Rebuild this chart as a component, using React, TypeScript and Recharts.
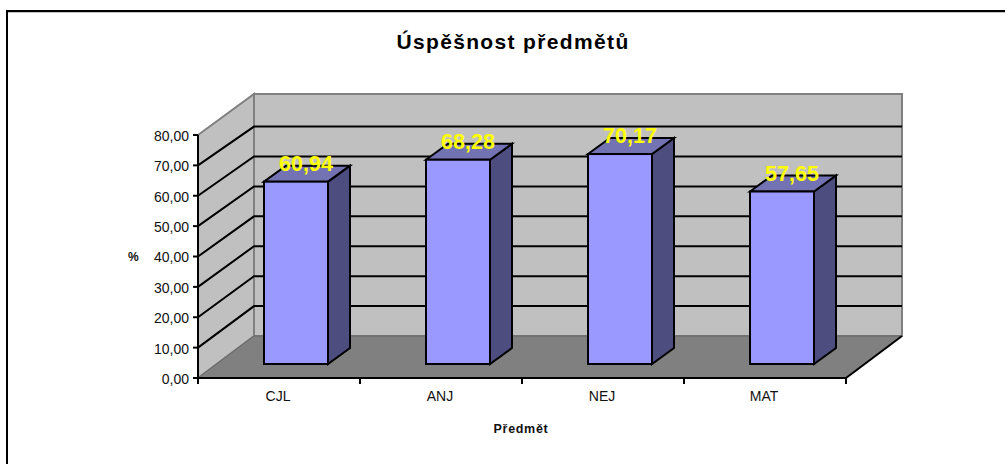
import React from 'react';
import {
  BarChart,
  Bar,
  XAxis,
  YAxis,
  CartesianGrid,
  LabelList,
  ReferenceArea,
} from 'recharts';

const subjects = ['CJL', 'ANJ', 'NEJ', 'MAT'];
const successRates = [60.94, 68.28, 70.17, 57.65];
const valueTicks = [0, 10, 20, 30, 40, 50, 60, 70, 80];

const data = subjects.map((name, i) => ({ name, value: successRates[i] }));

const FONT = '"Liberation Sans", Arial, sans-serif';
const WALL_DX = 56;
const WALL_DY = 42;
const BAR_DX = 17;
const BAR_DY = 14;
const BAR_DEPTH_X = 22;
const BAR_DEPTH_Y = 16;
// things further back come out slightly shorter than the front axis
const FORESHORTEN = 0.985;

const formatValue = (v: number) => v.toFixed(2).replace('.', ',');

// floor and the two walls, sized from the plot area
const Room = ({ x, y, width, height }: any) => {
  const bottom = y + height;
  const right = x + width;
  return (
    <g>
      <polygon
        points={`${x + WALL_DX},${y - WALL_DY + 1} ${right + WALL_DX},${y - WALL_DY + 1} ${right + WALL_DX},${bottom - WALL_DY} ${x + WALL_DX},${bottom - WALL_DY}`}
        fill="#c0c0c0"
        stroke="#808080"
        strokeWidth={2}
      />
      <polygon
        points={`${x},${y} ${x + WALL_DX},${y - WALL_DY + 1} ${x + WALL_DX},${bottom - WALL_DY} ${x},${bottom}`}
        fill="#c0c0c0"
        stroke="#808080"
        strokeWidth={2}
      />
      <polygon
        points={`${x},${bottom} ${right},${bottom} ${right + WALL_DX},${bottom - WALL_DY} ${x + WALL_DX},${bottom - WALL_DY}`}
        fill="#808080"
        stroke="#666666"
        strokeWidth={1}
      />
      <line x1={right} y1={bottom} x2={right + WALL_DX} y2={bottom - WALL_DY} stroke="#000" strokeWidth={2} />
    </g>
  );
};

// each grid line runs up the side wall, then along the back wall
const GridLine = ({ x1, x2, y1, index, y, height }: any) => {
  if (index === 0 || index === valueTicks.length - 1) return <g />;
  const bottom = y + height;
  const backY = bottom - WALL_DY - (bottom - y1) * FORESHORTEN;
  return (
    <polyline
      points={`${x1},${y1} ${x1 + WALL_DX},${backY} ${x2 + WALL_DX},${backY}`}
      fill="none"
      stroke="#000"
      strokeWidth={2}
    />
  );
};

const Bar3D = ({ x, y, width, height }: any) => {
  const h = height * FORESHORTEN;
  const left = x + BAR_DX;
  const right = left + width;
  const bottom = y + height - BAR_DY;
  const top = bottom - h;
  return (
    <g stroke="#000" strokeWidth={2} strokeLinejoin="miter">
      <polygon
        points={`${right},${top} ${right + BAR_DEPTH_X},${top - BAR_DEPTH_Y} ${right + BAR_DEPTH_X},${bottom - BAR_DEPTH_Y} ${right},${bottom}`}
        fill="#4d4d80"
      />
      <polygon
        points={`${left},${top} ${left + BAR_DEPTH_X},${top - BAR_DEPTH_Y} ${right + BAR_DEPTH_X},${top - BAR_DEPTH_Y} ${right},${top}`}
        fill="#7373b3"
      />
      <rect x={left} y={top} width={width} height={h} fill="#9999ff" />
    </g>
  );
};

const BarValue = ({ x, y, width, height, value }: any) => {
  const bottom = y + height - BAR_DY;
  const top = bottom - height * FORESHORTEN;
  return (
    <text
      x={x + BAR_DX + width / 2 + BAR_DEPTH_X / 2 - 1}
      y={top - 11}
      textAnchor="middle"
      fontFamily={FONT}
      fontSize={21.5}
      fontWeight="bold"
      fill="#ffff00"
    >
      {formatValue(value)}
    </text>
  );
};

const CategoryTick = ({ x, y, index, payload }: any) => {
  const step = 162;
  return (
    <g>
      <line x1={x - step / 2} y1={y - 8} x2={x - step / 2} y2={y - 2} stroke="#000" strokeWidth={2} />
      {index === subjects.length - 1 && (
        <line x1={x + step / 2} y1={y - 8} x2={x + step / 2} y2={y - 2} stroke="#000" strokeWidth={2} />
      )}
      <text x={x - 1} y={y + 15} textAnchor="middle" fontFamily={FONT} fontSize={14} fill="#111">
        {payload.value}
      </text>
    </g>
  );
};

const App = () => (
  <div style={{ position: 'absolute', left: 0, top: 0, width: 1005, height: 464, background: '#fff', overflow: 'hidden' }}>
    <div style={{ position: 'absolute', left: 6, top: 10, width: 999, height: 3, borderTop: '2px solid #000', borderBottom: '1px solid #c0c0c0', boxSizing: 'border-box' }} />
    <div style={{ position: 'absolute', left: 6, top: 10, width: 2, height: 454, background: '#000' }} />
    <BarChart
      width={1005}
      height={464}
      data={data}
      margin={{ top: 135, right: 159, bottom: 56, left: 138 }}
      barSize={64}
      style={{ position: 'absolute', left: 0, top: 0 }}
    >
      <ReferenceArea y1={0} y2={80} shape={<Room />} ifOverflow="visible" zIndex={-200} />
      <CartesianGrid vertical={false} horizontal={<GridLine />} syncWithTicks />
      <XAxis
        dataKey="name"
        axisLine={{ stroke: '#000', strokeWidth: 2 }}
        tickLine={false}
        tick={<CategoryTick />}
        interval={0}
        height={30}
        label={{ value: 'Předmět', position: 'insideBottom', offset: -25, dx: -1, fontFamily: FONT, fontSize: 12.5, fontWeight: 'bold', fill: '#111', style: { letterSpacing: 0.7 } }}
      />
      <YAxis
        domain={[0, 80]}
        ticks={valueTicks}
        interval={0}
        tickFormatter={formatValue}
        axisLine={{ stroke: '#000', strokeWidth: 2 }}
        tickLine={{ stroke: '#000', strokeWidth: 2 }}
        tickSize={5}
        tickMargin={4}
        tick={{ fontFamily: FONT, fontSize: 14, fill: '#111', dy: 1 }}
        width={60}
        label={{ value: '%', position: 'insideLeft', offset: -10, fontFamily: FONT, fontSize: 12, fontWeight: 'bold', fill: '#111' }}
      />
      <Bar dataKey="value" shape={<Bar3D />} isAnimationActive={false}>
        <LabelList dataKey="value" content={<BarValue />} />
      </Bar>
      <text x={513} y={49} textAnchor="middle" fontFamily={FONT} fontSize={21} fontWeight="bold" fill="#000" style={{ letterSpacing: 1.35 }}>
        Úspěšnost předmětů
      </text>
    </BarChart>
  </div>
);

export default App;
